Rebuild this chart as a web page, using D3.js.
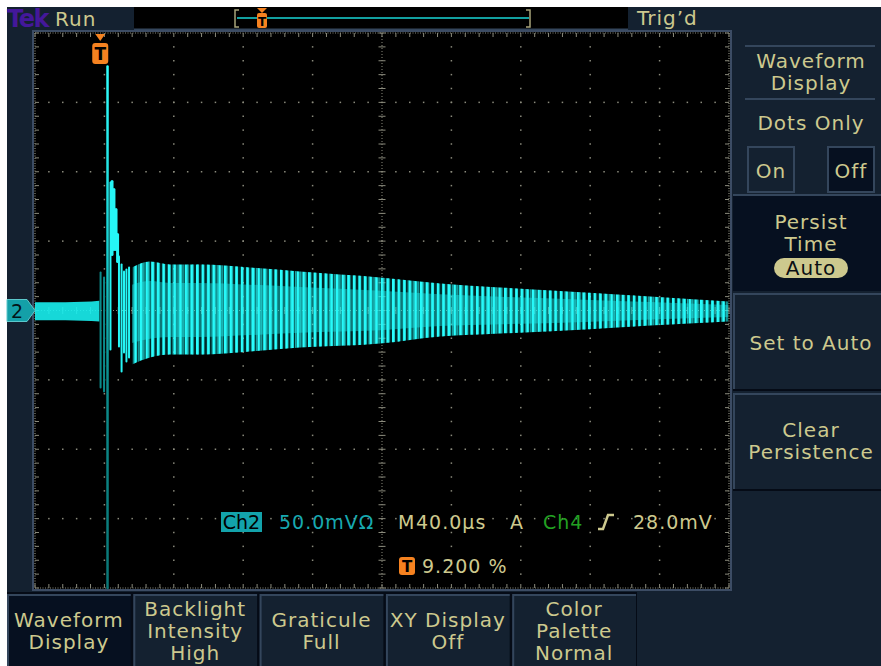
<!DOCTYPE html>
<html>
<head>
<meta charset="utf-8">
<script src="https://cdn.jsdelivr.net/npm/d3@7"></script>
<style>
  body { margin: 0; background: #fff; }
  svg { display: block; }
  text { font-family: "DejaVu Sans", sans-serif; letter-spacing: 1px; }
</style>
</head>
<body>
<svg id="scope" width="881" height="666"></svg>
<script>
// scope settings
const timeBase = 40;       // µs per division
const voltsPerDiv = 50;    // mV per division
const tStart = -37.6;      // µs at left edge of the screen

// pre-trigger noise band (µs, mV)
const noiseT   = [-37.6, -20, -5, -0.5];
const noiseMax = [6, 6, 6.5, 7];
const noiseMin = [-7, -7, -7.5, -8];

// transient right after the trigger: one vertical stroke per sample (µs, mV)
const spikeT   = [0.2, 2.2, 4.2, 5.9, 6.8, 7.9, 9.1, 10.0, 10.8, 12.3, 13.7, 15.1, 16.6];
const spikeMax = [27.4, 23.8, 175.8, 92.2, 92.9, 87.2, 72.8, 54.8, 38.9, 33.1, 28.1, 29.5, 31.0];
const spikeMin = [-55.5, -58.4, -200, -28.1, 40.3, 44.0, 44.0, 35.3, -25.9, -44.0, -30.3, -36.7, -33.9];

// ringing envelope (µs, mV)
const ringT   = [18.3, 28.7, 40.2, 57.5, 86.3, 115.1, 161.3, 195.8, 230.4, 279.4, 316.9, 361.9];
const ringMax = [31.0, 35.3, 33.1, 33.1, 31.0, 28.1, 23.8, 19.5, 16.6, 13.0, 10.1, 6.5];
const ringMin = [-38.9, -33.9, -31.7, -31.7, -29.5, -26.7, -23.8, -18.7, -16.6, -13.7, -10.8, -7.9];

// menu labels
const sideTitle = ["Waveform", "Display"];
const dotsLabel = "Dots Only";
const dotsButtons = ["On", "Off"];
const persistLabel = ["Persist", "Time"];
const persistValue = "Auto";
const sideButtons = [["Set to Auto"], ["Clear", "Persistence"]];
const bottomButtons = [["Waveform", "Display"], ["Backlight", "Intensity", "High"],
                       ["Graticule", "Full"], ["XY Display", "Off"], ["Color", "Palette", "Normal"]];

const khaki = "#cdc98e", bg = "#142130", dark = "#061020", edge = "#34465c";

const svg = d3.select("#scope");

// screen background (white strip on top and left like the capture)
svg.append("rect").attr("width", 881).attr("height", 666).attr("fill", "#fff");
svg.append("rect").attr("x", 7).attr("y", 7).attr("width", 874).attr("height", 659).attr("fill", bg);

// ---------- top status bar ----------
svg.append("text").attr("x", 7).attr("y", 27).attr("fill", "#44189a")
    .attr("font-size", 24).attr("font-weight", "bold").style("letter-spacing", "-1.5px").text("Tek");
svg.append("text").attr("x", 55).attr("y", 26).attr("fill", khaki).attr("font-size", 20).text("Run");

svg.append("rect").attr("x", 134).attr("y", 7).attr("width", 494).attr("height", 22).attr("fill", "#000");
svg.append("line").attr("x1", 134).attr("x2", 628).attr("y1", 29.5).attr("y2", 29.5)
    .attr("stroke", edge).attr("stroke-width", 2);
svg.append("line").attr("x1", 237).attr("x2", 529).attr("y1", 18).attr("y2", 18)
    .attr("stroke", "#12a0a0").attr("stroke-width", 2);
svg.append("path").attr("d", "M239,10H235V27H239").attr("fill", "none").attr("stroke", "#a8a47a").attr("stroke-width", 1.5);
svg.append("path").attr("d", "M526,10H530V27H526").attr("fill", "none").attr("stroke", "#a8a47a").attr("stroke-width", 1.5);
svg.append("path").attr("d", "M257,8H267L262,13Z").attr("fill", "#f58220");
svg.append("rect").attr("x", 257).attr("y", 13).attr("width", 10).attr("height", 15).attr("rx", 2).attr("fill", "#f58220");
svg.append("text").attr("x", 262).attr("y", 26).attr("text-anchor", "middle").attr("font-size", 12)
    .attr("font-weight", "bold").style("letter-spacing", "0px").attr("fill", "#000").text("T");
svg.append("text").attr("x", 637).attr("y", 25).attr("fill", khaki).attr("font-size", 20).text("Trig\u2019d");

// ---------- graticule ----------
const L = 35, R = 729, T = 33, B = 588;
const x = d3.scaleLinear().domain([tStart, tStart + 10 * timeBase]).range([L, R]);
const y = d3.scaleLinear().domain([-4 * voltsPerDiv, 4 * voltsPerDiv]).range([B, T]);

svg.append("rect").attr("x", L - 2).attr("y", T - 2).attr("width", R - L + 4).attr("height", B - T + 4)
    .attr("fill", "#000").attr("stroke", "#3c4c64").attr("stroke-width", 2);

const grat = svg.append("g").attr("fill", "#8a8a7c").attr("stroke", "#8a8a7c");
const tMinor = d3.range(0, 51).map(i => tStart + i * timeBase / 5);
const vMinor = d3.range(0, 41).map(i => -4 * voltsPerDiv + i * voltsPerDiv / 5);
const tMajor = d3.range(1, 10).map(i => tStart + i * timeBase);
const vMajor = d3.range(1, 8).map(i => -4 * voltsPerDiv + i * voltsPerDiv);
const tMid = tStart + 5 * timeBase;

// dots on division lines
tMajor.filter(t => t !== tMid).forEach(t => {
  grat.selectAll(null).data(vMinor.slice(1, -1)).enter().append("rect")
      .attr("x", x(t) - 0.75).attr("y", d => y(d) - 0.75).attr("width", 1.5).attr("height", 1.5).attr("stroke", "none");
});
vMajor.filter(v => v !== 0).forEach(v => {
  grat.selectAll(null).data(tMinor.slice(1, -1)).enter().append("rect")
      .attr("x", d => x(d) - 0.75).attr("y", y(v) - 0.75).attr("width", 1.5).attr("height", 1.5).attr("stroke", "none");
});

// center cross with ticks
grat.append("line").attr("x1", x(tMid)).attr("x2", x(tMid)).attr("y1", T).attr("y2", B)
    .attr("stroke-dasharray", "1,2").attr("stroke-width", 1);
grat.append("line").attr("x1", L).attr("x2", R).attr("y1", y(0)).attr("y2", y(0))
    .attr("stroke-dasharray", "1,2").attr("stroke-width", 1);
grat.selectAll(null).data(vMinor).enter().append("line")
    .attr("x1", x(tMid) - 3.5).attr("x2", x(tMid) + 3.5).attr("y1", d => y(d)).attr("y2", d => y(d)).attr("stroke-width", 1);
grat.selectAll(null).data(tMinor).enter().append("line")
    .attr("y1", y(0) - 3.5).attr("y2", y(0) + 3.5).attr("x1", d => x(d)).attr("x2", d => x(d)).attr("stroke-width", 1);

// border dotted lines and inward ticks
[[L, T, R, T], [L, B, R, B], [L, T, L, B], [R, T, R, B]].forEach(s => {
  grat.append("line").attr("x1", s[0]).attr("y1", s[1]).attr("x2", s[2]).attr("y2", s[3])
      .attr("stroke-dasharray", "1,1.5").attr("stroke-width", 1.2);
});
grat.selectAll(null).data(tMinor).enter().append("path")
    .attr("d", d => `M${x(d)},${T}v4M${x(d)},${B}v-4`).attr("stroke-width", 1);
grat.selectAll(null).data(vMinor).enter().append("path")
    .attr("d", d => `M${L},${y(d)}h4M${R},${y(d)}h-4`).attr("stroke-width", 1);

// ---------- trace ----------
const defs = svg.append("defs");
const pat = defs.append("pattern").attr("id", "ringPat").attr("patternUnits", "userSpaceOnUse")
    .attr("width", 5.6).attr("height", 8);
pat.append("rect").attr("width", 5.6).attr("height", 8).attr("fill", "#00c8c8").attr("opacity", 0.2);
pat.append("rect").attr("width", 2.6).attr("height", 8).attr("fill", "#2affff");
const pat2 = defs.append("pattern").attr("id", "ringPat2").attr("patternUnits", "userSpaceOnUse")
    .attr("width", 4.9).attr("height", 8);
pat2.append("rect").attr("x", 1).attr("width", 1.6).attr("height", 8).attr("fill", "#2affff");

const spikeGrad = defs.append("linearGradient").attr("id", "spikeGrad").attr("gradientUnits", "userSpaceOnUse")
    .attr("x1", 0).attr("x2", 0).attr("y1", y(176)).attr("y2", y(-200));
spikeGrad.append("stop").attr("offset", "0%").attr("stop-color", "#30ffff");
spikeGrad.append("stop").attr("offset", "35%").attr("stop-color", "#18d0d0");
spikeGrad.append("stop").attr("offset", "60%").attr("stop-color", "#0c8c8c");
spikeGrad.append("stop").attr("offset", "100%").attr("stop-color", "#0a7676");

const trace = svg.append("g");

// noise band
const noise = noiseT.map((t, i) => ({ t, hi: noiseMax[i], lo: noiseMin[i] }));
trace.append("path").datum(noise)
    .attr("d", d3.area().x(d => x(d.t)).y0(d => y(d.lo)).y1(d => y(d.hi)))
    .attr("fill", "#18f0f0").attr("opacity", 0.9);

// ringing band
const ring = ringT.map((t, i) => ({ t, hi: ringMax[i], lo: ringMin[i] }));
const ringArea = d3.area().curve(d3.curveMonotoneX).x(d => x(d.t)).y0(d => y(d.lo)).y1(d => y(d.hi));
trace.append("path").datum(ring).attr("d", ringArea).attr("fill", "url(#ringPat)");
trace.append("path").datum(ring).attr("d", ringArea).attr("fill", "url(#ringPat2)").attr("opacity", 0.6);
trace.append("path").datum(ring)
    .attr("d", d3.area().curve(d3.curveMonotoneX).x(d => x(d.t)).y0(d => y(d.lo * 0.6)).y1(d => y(d.hi * 0.6)))
    .attr("fill", "#20f0f0").attr("opacity", 0.4);

// transient strokes
const spikes = spikeT.map((t, i) => ({ t, hi: spikeMax[i], lo: spikeMin[i] }));
trace.selectAll(null).data(spikes).enter().append("line")
    .attr("x1", d => x(d.t)).attr("x2", d => x(d.t))
    .attr("y1", d => y(d.hi)).attr("y2", d => y(d.lo))
    .attr("stroke", d => d.lo <= -200 ? "url(#spikeGrad)" : (d.t < 4 ? "#0b8a8a" : "#26f6f6"))
    .attr("stroke-width", d => d.lo <= -200 ? 2.5 : (d.lo > 0 ? 3 : 2))
    .attr("stroke-linecap", "round");

// ---------- markers ----------
const orange = "#f58220";
const tx = x(0);
svg.append("path").attr("d", `M${tx - 5},34H${tx + 5}L${tx},41Z`).attr("fill", orange);
svg.append("rect").attr("x", tx - 8).attr("y", 43).attr("width", 16).attr("height", 21).attr("rx", 3).attr("fill", orange);
svg.append("text").attr("x", tx).attr("y", 60).attr("text-anchor", "middle").attr("font-size", 17)
    .attr("font-weight", "bold").style("letter-spacing", "0px").attr("fill", "#000").text("T");

const gy = y(0);
svg.append("path").attr("d", `M7,${gy - 11}H27L35,${gy}L27,${gy + 11}H7Z`)
    .attr("fill", "#14a0a8").attr("stroke", "#5cc8cc").attr("stroke-width", 1);
svg.append("text").attr("x", 17).attr("y", gy + 7).attr("text-anchor", "middle").attr("font-size", 19)
    .attr("fill", "#031418").style("letter-spacing", "0px").text("2");

// ---------- readout ----------
const ro = svg.append("g").attr("font-size", 19);
ro.append("rect").attr("x", 221).attr("y", 512).attr("width", 41).attr("height", 20).attr("fill", "#13a3ab");
ro.append("text").attr("x", 241.5).attr("y", 529).attr("text-anchor", "middle").attr("fill", "#000")
    .style("letter-spacing", "0px").text("Ch2");
ro.append("text").attr("x", 279).attr("y", 529).attr("fill", "#17a9b1").text("50.0mV\u03A9");
ro.append("text").attr("x", 398).attr("y", 529).attr("fill", khaki).text("M");
ro.append("text").attr("x", 416).attr("y", 529).attr("fill", khaki).text("40.0\u00B5s");
ro.append("text").attr("x", 510).attr("y", 529).attr("fill", khaki).text("A");
ro.append("text").attr("x", 543).attr("y", 529).attr("fill", "#22a022").text("Ch4");
ro.append("path").attr("d", "M598,529H603L608,515H614").attr("fill", "none").attr("stroke", khaki).attr("stroke-width", 2.5);
ro.append("text").attr("x", 633).attr("y", 529).attr("fill", khaki).text("28.0mV");
ro.append("rect").attr("x", 399).attr("y", 557).attr("width", 16).attr("height", 18).attr("rx", 3).attr("fill", orange);
ro.append("text").attr("x", 407).attr("y", 572).attr("text-anchor", "middle").attr("font-size", 15)
    .attr("font-weight", "bold").style("letter-spacing", "0px").attr("fill", "#000").text("T");
ro.append("text").attr("x", 422).attr("y", 573).attr("fill", khaki).text("9.200 %");

// ---------- side menu ----------
const side = svg.append("g").attr("font-size", 20).attr("fill", khaki).attr("text-anchor", "middle");
const sx = 811;
side.append("line").attr("x1", 745).attr("x2", 875).attr("y1", 46).attr("y2", 46).attr("stroke", edge).attr("stroke-width", 2);
side.append("line").attr("x1", 745).attr("x2", 875).attr("y1", 99).attr("y2", 99).attr("stroke", edge).attr("stroke-width", 2);
side.selectAll(null).data(sideTitle).enter().append("text").attr("x", sx).attr("y", (d, i) => 68 + i * 22).text(d => d);
side.append("text").attr("x", sx).attr("y", 130).text(dotsLabel);
const btnX = [748, 828];
dotsButtons.forEach((b, i) => {
  side.append("rect").attr("x", btnX[i]).attr("y", 147).attr("width", 46).attr("height", 45)
      .attr("fill", i === 1 ? dark : bg).attr("stroke", edge).attr("stroke-width", 2);
  side.append("text").attr("x", btnX[i] + 23).attr("y", 178).text(b);
});
// persist panel (selected)
side.append("rect").attr("x", 733).attr("y", 195).attr("width", 148).attr("height", 96).attr("fill", dark);
side.append("line").attr("x1", 733).attr("x2", 881).attr("y1", 195).attr("y2", 195).attr("stroke", edge).attr("stroke-width", 2);
side.selectAll(null).data(persistLabel).enter().append("text").attr("x", sx).attr("y", (d, i) => 229 + i * 22).text(d => d);
side.append("rect").attr("x", 774).attr("y", 258).attr("width", 74).attr("height", 20).attr("rx", 10).attr("fill", khaki);
side.append("text").attr("x", sx).attr("y", 274.5).attr("fill", "#0a0f14").text(persistValue);
// remaining side buttons
const sideTop = [293, 393];
sideButtons.forEach((lines, i) => {
  const top = sideTop[i];
  side.append("rect").attr("x", 733).attr("y", top).attr("width", 148).attr("height", 96).attr("fill", bg);
  side.append("path").attr("d", `M734,${top + 96}V${top + 1}H881`).attr("fill", "none").attr("stroke", edge).attr("stroke-width", 2);
  side.append("line").attr("x1", 733).attr("x2", 881).attr("y1", top + 97).attr("y2", top + 97).attr("stroke", "#050b16").attr("stroke-width", 2);
  const base = lines.length === 1 ? top + 57 : top + 44;
  side.selectAll(null).data(lines).enter().append("text").attr("x", sx).attr("y", (d, j) => base + j * 22).text(d => d);
});

// ---------- bottom menu ----------
const bx = d3.scaleBand().domain(d3.range(bottomButtons.length)).range([7, 636]).paddingInner(0.02);
const bot = svg.append("g").attr("font-size", 20).attr("fill", khaki).attr("text-anchor", "middle");
bot.append("rect").attr("x", 7).attr("y", 592).attr("width", 630).attr("height", 74).attr("fill", "#050b16");
bottomButtons.forEach((lines, i) => {
  const x0 = bx(i), w = bx.bandwidth();
  bot.append("rect").attr("x", x0).attr("y", 594).attr("width", w).attr("height", 72).attr("fill", i === 0 ? dark : bg);
  bot.append("path").attr("d", `M${x0 + 1},666V${595}H${x0 + w}`).attr("fill", "none").attr("stroke", edge).attr("stroke-width", 2);
  const base = lines.length === 2 ? 627 : 616;
  bot.selectAll(null).data(lines).enter().append("text")
      .attr("x", x0 + w / 2).attr("y", (d, j) => base + j * 22).text(d => d);
});
</script>
</body>
</html>
